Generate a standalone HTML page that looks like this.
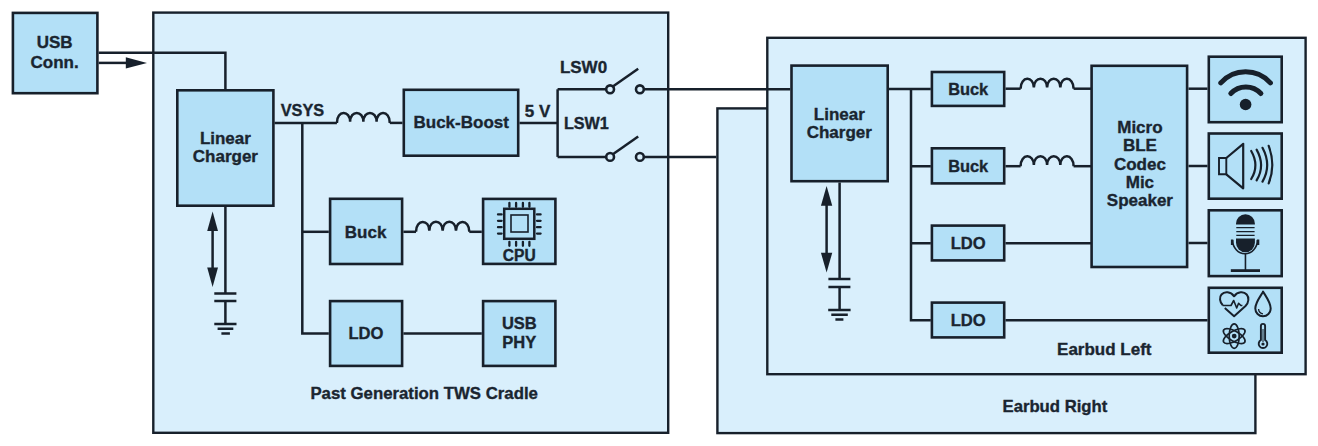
<!DOCTYPE html>
<html><head><meta charset="utf-8"><style>
html,body{margin:0;padding:0;background:#fff;width:1318px;height:446px;overflow:hidden}
svg{display:block}
text{font-family:"Liberation Sans",sans-serif;font-weight:bold;fill:#1a2530;stroke:#1a2530;stroke-width:0.35px}
</style></head><body>
<svg width="1318" height="446" viewBox="0 0 1318 446">
<rect x="153.30" y="12.60" width="514.90" height="420.20" fill="#d9effc" stroke="#17202b" stroke-width="2.4"/>
<rect x="717.40" y="108.40" width="538.00" height="324.70" fill="#d9effc" stroke="#17202b" stroke-width="2.4"/>
<rect x="767.30" y="37.80" width="538.30" height="336.40" fill="#d9effc" stroke="#17202b" stroke-width="2.4"/>
<rect x="12.90" y="12.90" width="84.50" height="80.30" fill="#b3e0f7" stroke="#17202b" stroke-width="2.6"/>
<path d="M98.7,52.8 H225.4 V89" fill="none" stroke="#17202b" stroke-width="2.5" />
<path d="M98.7,62.9 H128" fill="none" stroke="#17202b" stroke-width="2.5" />
<polygon points="125.80,57.20 147.00,62.90 125.80,68.60" fill="#17202b"/>
<rect x="177.30" y="90.30" width="96.10" height="115.40" fill="#b3e0f7" stroke="#17202b" stroke-width="2.6"/>
<path d="M274.5,122.9 H336.9" fill="none" stroke="#17202b" stroke-width="2.5" />
<path d="M336.90,122.90 C336.90,109.97 350.12,109.97 350.12,121.80 C350.12,109.97 363.35,109.97 363.35,121.80 C363.35,109.97 376.58,109.97 376.58,121.80 C376.57,109.97 389.80,109.97 389.80,122.90" fill="none" stroke="#17202b" stroke-width="2.5" />
<path d="M389.8,122.9 H402.5" fill="none" stroke="#17202b" stroke-width="2.5" />
<path d="M302.3,122.9 V333.4 H328.8" fill="none" stroke="#17202b" stroke-width="2.5" />
<path d="M302.3,231.8 H328.8" fill="none" stroke="#17202b" stroke-width="2.5" />
<rect x="403.80" y="89.80" width="114.40" height="65.90" fill="#b3e0f7" stroke="#17202b" stroke-width="2.6"/>
<rect x="330.10" y="198.80" width="72.00" height="65.20" fill="#b3e0f7" stroke="#17202b" stroke-width="2.6"/>
<rect x="483.10" y="198.90" width="72.30" height="65.00" fill="#b3e0f7" stroke="#17202b" stroke-width="2.6"/>
<rect x="330.10" y="301.10" width="72.00" height="64.80" fill="#b3e0f7" stroke="#17202b" stroke-width="2.6"/>
<rect x="483.10" y="301.10" width="72.30" height="64.80" fill="#b3e0f7" stroke="#17202b" stroke-width="2.6"/>
<path d="M403.4,231.8 H416" fill="none" stroke="#17202b" stroke-width="2.5" />
<path d="M416.00,231.80 C416.00,218.87 429.32,218.87 429.32,230.70 C429.32,218.87 442.65,218.87 442.65,230.70 C442.65,218.87 455.97,218.87 455.97,230.70 C455.98,218.87 469.30,218.87 469.30,231.80" fill="none" stroke="#17202b" stroke-width="2.5" />
<path d="M469.3,231.8 H481.8" fill="none" stroke="#17202b" stroke-width="2.5" />
<path d="M403.4,333.4 H481.8" fill="none" stroke="#17202b" stroke-width="2.5" />
<path d="M519.5,123.1 H557.6" fill="none" stroke="#17202b" stroke-width="2.5" />
<path d="M557.6,89.3 V156.9" fill="none" stroke="#17202b" stroke-width="2.5" />
<path d="M557.6,89.3 H606" fill="none" stroke="#17202b" stroke-width="2.5" />
<circle cx="610.1" cy="89.3" r="3.9" fill="#d9effc" stroke="#17202b" stroke-width="2.6"/>
<circle cx="639.9" cy="89.3" r="3.9" fill="#d9effc" stroke="#17202b" stroke-width="2.6"/>
<path d="M613.2,86.3 L638.2,68.8" fill="none" stroke="#17202b" stroke-width="2.5" />
<path d="M557.6,156.9 H606" fill="none" stroke="#17202b" stroke-width="2.5" />
<circle cx="610.1" cy="156.9" r="3.9" fill="#d9effc" stroke="#17202b" stroke-width="2.6"/>
<circle cx="639.9" cy="156.9" r="3.9" fill="#d9effc" stroke="#17202b" stroke-width="2.6"/>
<path d="M613.2,153.9 L638.2,136.4" fill="none" stroke="#17202b" stroke-width="2.5" />
<path d="M644,89.3 H790.2" fill="none" stroke="#17202b" stroke-width="2.5" />
<path d="M644,156.9 H716.2" fill="none" stroke="#17202b" stroke-width="2.5" />
<path d="M225.4,207 V293.4 M225.4,301 V324" fill="none" stroke="#17202b" stroke-width="2.5" />
<path d="M214.3,293.4 H236.4 M214.3,301 H236.4 M214.3,324 H236.5 M217.6,328.7 H233.3 M221.4,333.4 H229.9" fill="none" stroke="#17202b" stroke-width="2.5" />
<path d="M212.6,229.9 V268.6" fill="none" stroke="#17202b" stroke-width="2.5" />
<polygon points="212.60,211.50 207.20,230.90 218.00,230.90" fill="#17202b"/>
<polygon points="212.60,287.00 207.20,267.60 218.00,267.60" fill="#17202b"/>
<rect x="504.2" y="208.8" width="30.1" height="30" fill="none" stroke="#17202b" stroke-width="2.5"/>
<rect x="511" y="215" width="17" height="17" fill="none" stroke="#17202b" stroke-width="1.6"/>
<path d="M509.4,203 V206.8 M509.4,241.8 V245.8 M498,214.4 H501.6 M537,214.4 H540.6" fill="none" stroke="#17202b" stroke-width="2.3" stroke-linecap="round"/>
<path d="M516.1,203 V206.8 M516.1,241.8 V245.8 M498,220.8 H501.6 M537,220.8 H540.6" fill="none" stroke="#17202b" stroke-width="2.3" stroke-linecap="round"/>
<path d="M522.9,203 V206.8 M522.9,241.8 V245.8 M498,227.20000000000002 H501.6 M537,227.20000000000002 H540.6" fill="none" stroke="#17202b" stroke-width="2.3" stroke-linecap="round"/>
<path d="M529.4,203 V206.8 M529.4,241.8 V245.8 M498,233.60000000000002 H501.6 M537,233.60000000000002 H540.6" fill="none" stroke="#17202b" stroke-width="2.3" stroke-linecap="round"/>
<rect x="791.50" y="65.60" width="96.20" height="115.60" fill="#b3e0f7" stroke="#17202b" stroke-width="2.6"/>
<path d="M839.6,182.5 V278.9 M839.6,286.9 V310" fill="none" stroke="#17202b" stroke-width="2.5" />
<path d="M828.4,278.9 H850.4 M828.4,286.9 H850.4 M828.2,310 H850.6 M831.3,314.8 H847.8 M835.4,319.5 H843.4" fill="none" stroke="#17202b" stroke-width="2.5" />
<path d="M826.6,204.79999999999998 V253.8" fill="none" stroke="#17202b" stroke-width="2.5" />
<polygon points="826.60,186.10 820.95,205.80 832.25,205.80" fill="#17202b"/>
<polygon points="826.60,272.50 820.95,252.80 832.25,252.80" fill="#17202b"/>
<path d="M889,88.9 H930.8" fill="none" stroke="#17202b" stroke-width="2.5" />
<path d="M911,88.7 V320.3 H930.8 M911,166.2 H930.8 M911,243.2 H930.8" fill="none" stroke="#17202b" stroke-width="2.5" />
<rect x="931.90" y="72.00" width="72.30" height="33.90" fill="#b3e0f7" stroke="#17202b" stroke-width="2.6"/>
<rect x="931.90" y="148.30" width="72.30" height="35.10" fill="#b3e0f7" stroke="#17202b" stroke-width="2.6"/>
<rect x="931.90" y="225.60" width="72.30" height="34.80" fill="#b3e0f7" stroke="#17202b" stroke-width="2.6"/>
<rect x="931.90" y="302.60" width="72.30" height="34.80" fill="#b3e0f7" stroke="#17202b" stroke-width="2.6"/>
<rect x="1091.60" y="65.80" width="95.50" height="201.20" fill="#b3e0f7" stroke="#17202b" stroke-width="2.6"/>
<path d="M1005.5,88.7 H1020.6" fill="none" stroke="#17202b" stroke-width="2.5" />
<path d="M1020.60,88.70 C1020.60,75.77 1033.85,75.77 1033.85,87.60 C1033.85,75.77 1047.10,75.77 1047.10,87.60 C1047.10,75.77 1060.35,75.77 1060.35,87.60 C1060.35,75.77 1073.60,75.77 1073.60,88.70" fill="none" stroke="#17202b" stroke-width="2.5" />
<path d="M1073.6,88.7 H1091" fill="none" stroke="#17202b" stroke-width="2.5" />
<path d="M1005.5,166.2 H1020.6" fill="none" stroke="#17202b" stroke-width="2.5" />
<path d="M1020.60,166.20 C1020.60,153.27 1033.85,153.27 1033.85,165.10 C1033.85,153.27 1047.10,153.27 1047.10,165.10 C1047.10,153.27 1060.35,153.27 1060.35,165.10 C1060.35,153.27 1073.60,153.27 1073.60,166.20" fill="none" stroke="#17202b" stroke-width="2.5" />
<path d="M1073.6,166.2 H1091" fill="none" stroke="#17202b" stroke-width="2.5" />
<path d="M1005.5,243.2 H1091.2" fill="none" stroke="#17202b" stroke-width="2.5" />
<path d="M1005.5,320.3 H1207.5" fill="none" stroke="#17202b" stroke-width="2.5" />
<path d="M1188.5,88.7 H1207.5" fill="none" stroke="#17202b" stroke-width="2.5" />
<path d="M1188.5,166.0 H1207.5" fill="none" stroke="#17202b" stroke-width="2.5" />
<path d="M1188.5,243.0 H1207.5" fill="none" stroke="#17202b" stroke-width="2.5" />
<rect x="1208.80" y="56.70" width="72.90" height="65.50" fill="#b3e0f7" stroke="#17202b" stroke-width="2.6"/>
<rect x="1208.80" y="133.50" width="72.90" height="65.20" fill="#b3e0f7" stroke="#17202b" stroke-width="2.6"/>
<rect x="1208.80" y="210.30" width="72.90" height="65.80" fill="#b3e0f7" stroke="#17202b" stroke-width="2.6"/>
<rect x="1208.80" y="287.80" width="72.90" height="64.90" fill="#b3e0f7" stroke="#17202b" stroke-width="2.6"/>
<path d="M1220.8,82.9 A33.2,33.2 0 0 1 1270.4,82.9" fill="none" stroke="#17202b" stroke-width="5.0" stroke-linecap="round"/>
<path d="M1230.8,93.5 A20.5,20.5 0 0 1 1260.9,93.5" fill="none" stroke="#17202b" stroke-width="5.0" stroke-linecap="round"/>
<circle cx="1245.6" cy="104.5" r="5.8" fill="#17202b"/>
<path d="M1219,158 H1226.3 V174.3 H1219 Z" fill="none" stroke="#17202b" stroke-width="1.9" />
<path d="M1226.3,158 L1243.2,143.8 V188.3 L1226.3,174.3" fill="none" stroke="#17202b" stroke-width="2.2" stroke-linejoin="round"/>
<path d="M1251.2,151 Q1259.6000000000001,165.5 1251.2,179" fill="none" stroke="#17202b" stroke-width="2.2" stroke-linecap="round"/>
<path d="M1256.6,149.6 Q1265.6,165.5 1256.6,180.4" fill="none" stroke="#17202b" stroke-width="2.2" stroke-linecap="round"/>
<path d="M1262.5,147.8 Q1271.9,165.5 1262.5,181.6" fill="none" stroke="#17202b" stroke-width="2.2" stroke-linecap="round"/>
<path d="M1268.7,145.8 Q1275.8999999999999,165.5 1268.7,183.4" fill="none" stroke="#17202b" stroke-width="2.2" stroke-linecap="round"/>
<path d="M1236,224.6 V223.8 A9.45,9.45 0 0 1 1254.9,223.8 V224.6 Z" fill="#17202b"/>
<path d="M1236.3,227.7 H1254.6 M1236.3,231.7 H1254.6 M1236.3,235.4 H1254.6" fill="none" stroke="#17202b" stroke-width="1.2" />
<path d="M1236,238.5 H1254.9 V242.85 A9.45,9.45 0 0 1 1236,242.85 Z" fill="#17202b"/>
<path d="M1232.6,240 A12.4,13.8 0 0 0 1257.4,240" fill="none" stroke="#17202b" stroke-width="1.6" />
<path d="M1232.1,239.5 V245 M1258.1,239.5 V245" fill="none" stroke="#17202b" stroke-width="2.4" />
<path d="M1245.45,253.8 V270" fill="none" stroke="#17202b" stroke-width="1.6" />
<path d="M1230.8,270.6 H1260" fill="none" stroke="#17202b" stroke-width="2.8" />
<path d="M1222.8,305.2 C1219.5,302 1219.2,297 1221.5,294.5 C1224.5,291.2 1230.5,291.5 1234.1,296.3 C1237.7,291.5 1243.7,291.2 1246.7,294.5 C1249.2,297.3 1249,302.5 1245.5,306 L1234.1,316.2 L1224.8,308" fill="none" stroke="#17202b" stroke-width="2.0" stroke-linejoin="round"/>
<path d="M1222.6,305.5 H1231 L1233.7,300.5 L1236.7,308 L1238.6,303.3 L1240.9,305.5 H1242.4" fill="none" stroke="#17202b" stroke-width="1.6" stroke-linejoin="round"/>
<path d="M1263,292 C1259,298.4 1255.3,302.9 1255.3,308.6 A7.7,7.7 0 0 0 1270.7,308.6 C1270.7,302.5 1267,298 1263,291.6 Z" fill="none" stroke="#17202b" stroke-width="2.0" stroke-linejoin="round"/>
<path d="M1258.6,309 A4.6,4.6 0 0 0 1263,313.8" fill="none" stroke="#17202b" stroke-width="1.3" />
<ellipse cx="1234.2" cy="336.1" rx="5" ry="12.2" fill="none" stroke="#17202b" stroke-width="1.7" transform="rotate(0 1234.2 336.1)"/>
<ellipse cx="1234.2" cy="336.1" rx="5" ry="12.2" fill="none" stroke="#17202b" stroke-width="1.7" transform="rotate(60 1234.2 336.1)"/>
<ellipse cx="1234.2" cy="336.1" rx="5" ry="12.2" fill="none" stroke="#17202b" stroke-width="1.7" transform="rotate(-60 1234.2 336.1)"/>
<circle cx="1234.2" cy="336.1" r="2.4" fill="#17202b"/>
<path d="M1260.9,340 V326 A2.1,2.1 0 0 1 1265.1,326 V340 A4.3,4.3 0 1 1 1260.9,340 Z" fill="none" stroke="#17202b" stroke-width="1.9" />
<path d="M1263,329 V342" fill="none" stroke="#17202b" stroke-width="1.0" />
<circle cx="1263" cy="344" r="1.6" fill="#17202b"/>
<text x="54.6" y="48" font-size="17.0" text-anchor="middle">USB</text>
<text x="54.6" y="68.3" font-size="17.0" text-anchor="middle">Conn.</text>
<text x="225.4" y="144.1" font-size="17.0" text-anchor="middle">Linear</text>
<text x="225.4" y="162.4" font-size="17.0" text-anchor="middle">Charger</text>
<text x="302.4" y="116.3" font-size="16.3" text-anchor="middle">VSYS</text>
<text x="461.2" y="128.1" font-size="17.0" text-anchor="middle">Buck-Boost</text>
<text x="537.5" y="116.5" font-size="17.0" text-anchor="middle">5 V</text>
<text x="583.5" y="72.7" font-size="17.0" text-anchor="middle">LSW0</text>
<text x="586.4" y="128.6" font-size="16.2" text-anchor="middle">LSW1</text>
<text x="365.6" y="238" font-size="17.0" text-anchor="middle">Buck</text>
<text x="519.3" y="260.9" font-size="15.6" text-anchor="middle">CPU</text>
<text x="366" y="338.8" font-size="16.6" text-anchor="middle">LDO</text>
<text x="519.3" y="329.2" font-size="16.5" text-anchor="middle">USB</text>
<text x="519.3" y="347.6" font-size="16.5" text-anchor="middle">PHY</text>
<text x="424.2" y="399.1" font-size="16.8" text-anchor="middle">Past Generation TWS Cradle</text>
<text x="839.3" y="120" font-size="17.0" text-anchor="middle">Linear</text>
<text x="839.3" y="138" font-size="17.0" text-anchor="middle">Charger</text>
<text x="968.2" y="94.6" font-size="16.4" text-anchor="middle">Buck</text>
<text x="968.2" y="171.9" font-size="16.4" text-anchor="middle">Buck</text>
<text x="968.2" y="249.2" font-size="16.6" text-anchor="middle">LDO</text>
<text x="968.2" y="326.3" font-size="16.6" text-anchor="middle">LDO</text>
<text x="1139.9" y="133.0" font-size="17.0" text-anchor="middle">Micro</text>
<text x="1139.9" y="151.3" font-size="17.0" text-anchor="middle">BLE</text>
<text x="1139.9" y="169.6" font-size="17.0" text-anchor="middle">Codec</text>
<text x="1139.9" y="187.9" font-size="17.0" text-anchor="middle">Mic</text>
<text x="1139.9" y="206.2" font-size="17.0" text-anchor="middle">Speaker</text>
<text x="1104.3" y="354.5" font-size="17.0" text-anchor="middle">Earbud Left</text>
<text x="1054.9" y="411.5" font-size="16.7" text-anchor="middle">Earbud Right</text>
</svg>
</body></html>
